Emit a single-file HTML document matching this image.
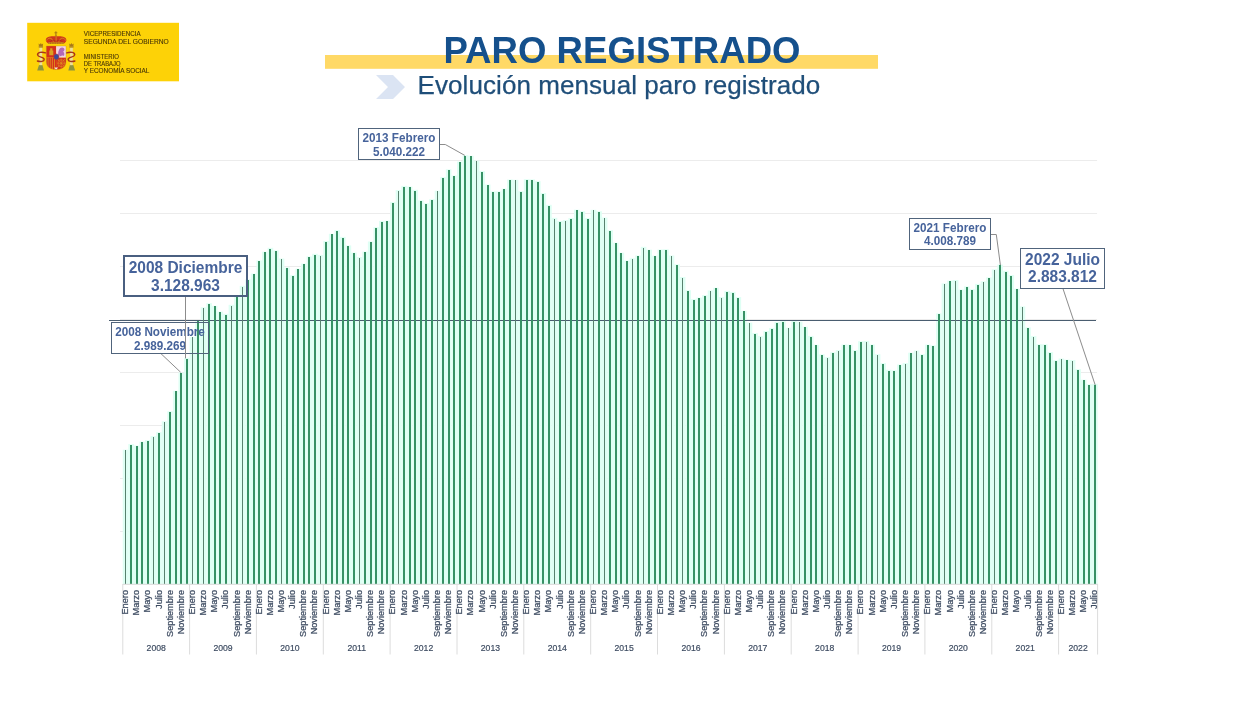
<!DOCTYPE html>
<html lang="es"><head><meta charset="utf-8"><title>Paro registrado</title>
<style>
html,body{margin:0;padding:0;background:#fff;}
body{width:1246px;height:703px;overflow:hidden;position:relative;font-family:"Liberation Sans",sans-serif;}
svg{position:absolute;left:0;top:0;display:block;}
text{font-family:"Liberation Sans",sans-serif;}
.m{font-size:9.2px;fill:#3e4c62;stroke:#3e4c62;stroke-width:0.25px;}
.y{font-size:9.2px;fill:#3e4c62;stroke:#3e4c62;stroke-width:0.2px;text-anchor:middle;}
.cb{font-weight:bold;fill:#46639b;text-anchor:middle;}
.lg{font-size:6.3px;fill:#4a3808;stroke:#4a3808;stroke-width:0.12px;}
</style></head><body>
<svg width="1246" height="703" viewBox="0 0 1246 703">
<rect x="0" y="0" width="1246" height="703" fill="#ffffff"/>
<g id="logo">
<rect x="27.2" y="22.8" width="151.8" height="58.5" fill="#fdd207"/>
<g id="arms">
<defs>
<clipPath id="shc"><path d="M46.3 46 H66 V61.5 C66 66.8 62 69.6 56.15 69.6 C50.3 69.6 46.3 66.8 46.3 61.5 Z"/></clipPath>
</defs>
<g>
<path d="M37.2 70.4 L44 70.4 L42.4 65 L39 65 Z" fill="#8c9440"/>
<rect x="39.5" y="47.2" width="2.7" height="18" fill="#ecdf9c"/>
<rect x="38.7" y="46" width="4.3" height="1.7" fill="#b58a22"/>
<path d="M38.9 46 L38.6 43.4 L39.9 44.4 L40.85 43 L41.8 44.4 L43.1 43.4 L42.8 46 Z" fill="#a87818"/>
<path d="M45.6 52.9 C41.5 51.4 37.2 52.4 37.6 55 C38 57.4 44.2 57 44.2 59.4 C44.2 61.4 40.5 62.1 37.4 61" fill="none" stroke="#a8341c" stroke-width="1.4" stroke-linecap="round"/>
</g>
<g transform="translate(112.3 0) scale(-1 1)">
<path d="M37.2 70.4 L44 70.4 L42.4 65 L39 65 Z" fill="#8c9440"/>
<rect x="39.5" y="47.2" width="2.7" height="18" fill="#ecdf9c"/>
<rect x="38.7" y="46" width="4.3" height="1.7" fill="#b58a22"/>
<path d="M38.9 46 L38.6 43.4 L39.9 44.4 L40.85 43 L41.8 44.4 L43.1 43.4 L42.8 46 Z" fill="#a87818"/>
<path d="M45.6 52.9 C41.5 51.4 37.2 52.4 37.6 55 C38 57.4 44.2 57 44.2 59.4 C44.2 61.4 40.5 62.1 37.4 61" fill="none" stroke="#a8341c" stroke-width="1.4" stroke-linecap="round"/>
</g>
<!-- crown -->
<path d="M55.9 31.3 V36.4 M54.5 32.8 H57.3" stroke="#a87612" stroke-width="1" fill="none"/>
<circle cx="55.9" cy="35.7" r="1.1" fill="#c28c18"/>
<path d="M45.8 40.4 C45.4 36.8 50.8 35.7 56 36.4 C61.2 35.7 66.8 36.8 66.4 40.4 C65.8 42.2 64.5 42.8 63.7 43.7 H48.5 C47.7 42.8 46.4 42.2 45.8 40.4 Z" fill="#cf361c"/>
<path d="M46.6 40.6 C47.6 37.4 52.2 37 53.4 41.8 M65.6 40.6 C64.6 37.4 60 37 58.8 41.8 M56.1 36.8 V42" stroke="#dca01c" stroke-width="0.75" fill="none"/>
<path d="M49.8 41.9 C51 40 53.2 39.6 56.1 41.4 C59 39.6 61.2 40 62.4 41.9" stroke="#a5281a" stroke-width="0.6" fill="none"/>
<rect x="48.3" y="42.3" width="15.6" height="1.8" rx="0.4" fill="#c48e1a"/>
<path d="M50 43.2 H62.3" stroke="#a5281a" stroke-width="0.5" stroke-dasharray="1 1.4"/>
<!-- shield -->
<g clip-path="url(#shc)">
<rect x="46" y="45.5" width="10.2" height="12.2" fill="#d42f1d"/>
<rect x="56.15" y="45.5" width="10.2" height="12.2" fill="#f2d6e0"/>
<rect x="46" y="57.7" width="10.2" height="12.2" fill="#e3a81e"/>
<path d="M47 57.7 V70 M49.1 57.7 V70 M51.2 57.7 V70 M53.3 57.7 V70 M55.4 57.7 V70" stroke="#d42f1d" stroke-width="1.4"/>
<rect x="56.15" y="57.7" width="10.2" height="12.2" fill="#d42f1d"/>
<path d="M57.5 59 L65 67.5 M65 59 L57.5 67.5 M61.2 58.5 V69 M57 63.2 H65.6" stroke="#e0a020" stroke-width="0.55" fill="none"/>
<rect x="58.2" y="60" width="6" height="6.4" rx="1.4" fill="none" stroke="#e0a020" stroke-width="0.55"/>
<!-- castle -->
<path d="M49.3 55.2 V50.6 H50.2 V48.3 H52.4 V50.6 H53.3 V55.2 Z" fill="#dba321"/>
<!-- lion -->
<path d="M58.3 55.6 C57.8 52.5 58.6 50 60 48.3 C61 47.2 63 47 64 48.2 C65 49.6 64.2 51 63.2 51.6 C64.6 53 64.6 55 63.8 56 C62.6 55.2 61.6 55.4 60.6 56.2 C59.8 55.4 59 55.4 58.3 55.6 Z" fill="#b368b8"/>
<path d="M54.3 67.6 L58 67.6 L56.15 70 Z" fill="#f3e3e3"/>
</g>
<path d="M46.3 46 H66 V61.5 C66 66.8 62 69.6 56.15 69.6 C50.3 69.6 46.3 66.8 46.3 61.5 Z" fill="none" stroke="#c9921a" stroke-width="0.35"/>
<ellipse cx="56.4" cy="56.8" rx="2.6" ry="2.9" fill="#3b4a9c" stroke="#c43a2a" stroke-width="0.5"/>
</g>

<text class="lg" x="83.8" y="35.8" textLength="56.8" lengthAdjust="spacingAndGlyphs">VICEPRESIDENCIA</text>
<text class="lg" x="83.8" y="43.5" textLength="84.9" lengthAdjust="spacingAndGlyphs">SEGUNDA DEL GOBIERNO</text>
<text class="lg" x="83.8" y="58.5" textLength="35.1" lengthAdjust="spacingAndGlyphs">MINISTERIO</text>
<text class="lg" x="83.8" y="65.6" textLength="36.7" lengthAdjust="spacingAndGlyphs">DE TRABAJO</text>
<text class="lg" x="83.8" y="72.9" textLength="65.6" lengthAdjust="spacingAndGlyphs">Y ECONOMÍA SOCIAL</text>
</g>
<rect x="325" y="55" width="553" height="13.8" fill="#ffd966"/>
<text x="443.4" y="63" font-size="37.5" font-weight="bold" fill="#15508c" textLength="357.2" lengthAdjust="spacingAndGlyphs">PARO REGISTRADO</text>
<path d="M376 75 L393 75 L405 87 L393 99 L376 99 L388 87 Z" fill="#dbe4f3"/>
<text x="417.6" y="94.4" font-size="26" fill="#1f4e79" stroke="#1f4e79" stroke-width="0.25" letter-spacing="0.07">Evolución mensual paro registrado</text>
<line x1="120" y1="160.5" x2="1097.1" y2="160.5" stroke="#ececec" stroke-width="1"/>
<line x1="120" y1="213.5" x2="1097.1" y2="213.5" stroke="#ececec" stroke-width="1"/>
<line x1="120" y1="266.5" x2="1097.1" y2="266.5" stroke="#ececec" stroke-width="1"/>
<line x1="120" y1="319.5" x2="1097.1" y2="319.5" stroke="#ececec" stroke-width="1"/>
<line x1="120" y1="372.5" x2="1097.1" y2="372.5" stroke="#ececec" stroke-width="1"/>
<line x1="120" y1="425.5" x2="1097.1" y2="425.5" stroke="#ececec" stroke-width="1"/>
<line x1="120" y1="478.5" x2="1097.1" y2="478.5" stroke="#ececec" stroke-width="1"/>
<line x1="120" y1="531.5" x2="1097.1" y2="531.5" stroke="#ececec" stroke-width="1"/>
<rect x="111.5" y="322.5" width="97.0" height="31.0" fill="#ffffff"/>
<rect x="124" y="256" width="123.0" height="40.0" fill="#ffffff"/>
<rect x="358.5" y="128.5" width="81.0" height="31.0" fill="#ffffff"/>
<rect x="909.5" y="218.5" width="81.0" height="31.0" fill="#ffffff"/>
<rect x="1020.5" y="248.5" width="84.0" height="40.0" fill="#ffffff"/>
<g fill="#dffff4">
<rect x="122.75" y="449.7" width="5.62" height="134.3"/>
<rect x="128.32" y="444.1" width="5.62" height="139.9"/>
<rect x="133.89" y="445.6" width="5.62" height="138.4"/>
<rect x="139.46" y="441.6" width="5.62" height="142.4"/>
<rect x="145.03" y="440.0" width="5.62" height="144.0"/>
<rect x="150.61" y="436.1" width="5.62" height="147.9"/>
<rect x="156.18" y="432.2" width="5.62" height="151.8"/>
<rect x="161.75" y="421.3" width="5.62" height="162.7"/>
<rect x="167.32" y="411.2" width="5.62" height="172.8"/>
<rect x="172.89" y="390.8" width="5.62" height="193.2"/>
<rect x="178.46" y="372.6" width="5.62" height="211.4"/>
<rect x="184.03" y="357.8" width="5.62" height="226.2"/>
<rect x="189.60" y="336.8" width="5.62" height="247.2"/>
<rect x="195.17" y="320.4" width="5.62" height="263.6"/>
<rect x="200.74" y="307.3" width="5.62" height="276.7"/>
<rect x="206.31" y="303.1" width="5.62" height="280.9"/>
<rect x="211.88" y="305.8" width="5.62" height="278.2"/>
<rect x="217.45" y="311.6" width="5.62" height="272.4"/>
<rect x="223.02" y="313.8" width="5.62" height="270.2"/>
<rect x="228.59" y="304.8" width="5.62" height="279.2"/>
<rect x="234.17" y="296.3" width="5.62" height="287.7"/>
<rect x="239.74" y="285.8" width="5.62" height="298.2"/>
<rect x="245.31" y="279.4" width="5.62" height="304.6"/>
<rect x="250.88" y="273.6" width="5.62" height="310.4"/>
<rect x="256.45" y="260.4" width="5.62" height="323.6"/>
<rect x="262.02" y="251.7" width="5.62" height="332.3"/>
<rect x="267.59" y="247.8" width="5.62" height="336.2"/>
<rect x="273.16" y="250.4" width="5.62" height="333.6"/>
<rect x="278.73" y="258.5" width="5.62" height="325.5"/>
<rect x="284.30" y="267.4" width="5.62" height="316.6"/>
<rect x="289.87" y="275.2" width="5.62" height="308.8"/>
<rect x="295.44" y="268.7" width="5.62" height="315.3"/>
<rect x="301.01" y="263.6" width="5.62" height="320.4"/>
<rect x="306.58" y="256.4" width="5.62" height="327.6"/>
<rect x="312.15" y="253.8" width="5.62" height="330.2"/>
<rect x="317.72" y="254.9" width="5.62" height="329.1"/>
<rect x="323.30" y="241.0" width="5.62" height="343.0"/>
<rect x="328.87" y="233.8" width="5.62" height="350.2"/>
<rect x="334.44" y="230.1" width="5.62" height="353.9"/>
<rect x="340.01" y="236.9" width="5.62" height="347.1"/>
<rect x="345.58" y="245.4" width="5.62" height="338.6"/>
<rect x="351.15" y="252.6" width="5.62" height="331.4"/>
<rect x="356.72" y="257.0" width="5.62" height="327.0"/>
<rect x="362.29" y="251.6" width="5.62" height="332.4"/>
<rect x="367.86" y="241.5" width="5.62" height="342.5"/>
<rect x="373.43" y="227.2" width="5.62" height="356.8"/>
<rect x="379.00" y="220.9" width="5.62" height="363.1"/>
<rect x="384.57" y="220.7" width="5.62" height="363.3"/>
<rect x="390.14" y="201.9" width="5.62" height="382.1"/>
<rect x="395.71" y="190.0" width="5.62" height="394.0"/>
<rect x="401.28" y="185.9" width="5.62" height="398.1"/>
<rect x="406.86" y="186.6" width="5.62" height="397.4"/>
<rect x="412.43" y="189.8" width="5.62" height="394.2"/>
<rect x="418.00" y="200.3" width="5.62" height="383.7"/>
<rect x="423.57" y="203.2" width="5.62" height="380.8"/>
<rect x="429.14" y="199.2" width="5.62" height="384.8"/>
<rect x="434.71" y="190.7" width="5.62" height="393.3"/>
<rect x="440.28" y="177.1" width="5.62" height="406.9"/>
<rect x="445.85" y="169.3" width="5.62" height="414.7"/>
<rect x="451.42" y="175.5" width="5.62" height="408.5"/>
<rect x="456.99" y="161.5" width="5.62" height="422.5"/>
<rect x="462.56" y="155.2" width="5.62" height="428.8"/>
<rect x="468.13" y="155.8" width="5.62" height="428.2"/>
<rect x="473.70" y="160.6" width="5.62" height="423.4"/>
<rect x="479.27" y="171.1" width="5.62" height="412.9"/>
<rect x="484.84" y="184.5" width="5.62" height="399.5"/>
<rect x="490.42" y="191.4" width="5.62" height="392.6"/>
<rect x="495.99" y="191.4" width="5.62" height="392.6"/>
<rect x="501.56" y="188.7" width="5.62" height="395.3"/>
<rect x="507.13" y="179.5" width="5.62" height="404.5"/>
<rect x="512.70" y="179.8" width="5.62" height="404.2"/>
<rect x="518.27" y="191.2" width="5.62" height="392.8"/>
<rect x="523.84" y="179.2" width="5.62" height="404.8"/>
<rect x="529.41" y="179.4" width="5.62" height="404.6"/>
<rect x="534.98" y="181.1" width="5.62" height="402.9"/>
<rect x="540.55" y="193.0" width="5.62" height="391.0"/>
<rect x="546.12" y="204.8" width="5.62" height="379.2"/>
<rect x="551.69" y="217.8" width="5.62" height="366.2"/>
<rect x="557.26" y="221.0" width="5.62" height="363.0"/>
<rect x="562.83" y="220.1" width="5.62" height="363.9"/>
<rect x="568.40" y="218.0" width="5.62" height="366.0"/>
<rect x="573.97" y="209.7" width="5.62" height="374.3"/>
<rect x="579.55" y="211.2" width="5.62" height="372.8"/>
<rect x="585.12" y="218.0" width="5.62" height="366.0"/>
<rect x="590.69" y="209.8" width="5.62" height="374.2"/>
<rect x="596.26" y="211.2" width="5.62" height="372.8"/>
<rect x="601.83" y="217.6" width="5.62" height="366.4"/>
<rect x="607.40" y="230.2" width="5.62" height="353.8"/>
<rect x="612.97" y="242.7" width="5.62" height="341.3"/>
<rect x="618.54" y="252.7" width="5.62" height="331.3"/>
<rect x="624.11" y="260.6" width="5.62" height="323.4"/>
<rect x="629.68" y="258.3" width="5.62" height="325.7"/>
<rect x="635.25" y="255.5" width="5.62" height="328.5"/>
<rect x="640.82" y="246.8" width="5.62" height="337.2"/>
<rect x="646.39" y="249.7" width="5.62" height="334.3"/>
<rect x="651.96" y="255.6" width="5.62" height="328.4"/>
<rect x="657.53" y="249.5" width="5.62" height="334.5"/>
<rect x="663.11" y="249.3" width="5.62" height="334.7"/>
<rect x="668.68" y="255.5" width="5.62" height="328.5"/>
<rect x="674.25" y="264.3" width="5.62" height="319.7"/>
<rect x="679.82" y="277.0" width="5.62" height="307.0"/>
<rect x="685.39" y="290.2" width="5.62" height="293.8"/>
<rect x="690.96" y="299.1" width="5.62" height="284.9"/>
<rect x="696.53" y="297.6" width="5.62" height="286.4"/>
<rect x="702.10" y="295.1" width="5.62" height="288.9"/>
<rect x="707.67" y="290.4" width="5.62" height="293.6"/>
<rect x="713.24" y="287.8" width="5.62" height="296.2"/>
<rect x="718.81" y="297.0" width="5.62" height="287.0"/>
<rect x="724.38" y="290.9" width="5.62" height="293.1"/>
<rect x="729.95" y="291.9" width="5.62" height="292.1"/>
<rect x="735.52" y="297.1" width="5.62" height="286.9"/>
<rect x="741.09" y="310.8" width="5.62" height="273.2"/>
<rect x="746.66" y="322.6" width="5.62" height="261.4"/>
<rect x="752.24" y="333.0" width="5.62" height="251.0"/>
<rect x="757.81" y="335.9" width="5.62" height="248.1"/>
<rect x="763.38" y="331.0" width="5.62" height="253.0"/>
<rect x="768.95" y="328.0" width="5.62" height="256.0"/>
<rect x="774.52" y="322.0" width="5.62" height="262.0"/>
<rect x="780.09" y="321.2" width="5.62" height="262.8"/>
<rect x="785.66" y="327.7" width="5.62" height="256.3"/>
<rect x="791.23" y="321.0" width="5.62" height="263.0"/>
<rect x="796.80" y="321.7" width="5.62" height="262.3"/>
<rect x="802.37" y="326.7" width="5.62" height="257.3"/>
<rect x="807.94" y="335.9" width="5.62" height="248.1"/>
<rect x="813.51" y="344.8" width="5.62" height="239.2"/>
<rect x="819.08" y="354.3" width="5.62" height="229.7"/>
<rect x="824.65" y="357.2" width="5.62" height="226.8"/>
<rect x="830.22" y="352.2" width="5.62" height="231.8"/>
<rect x="835.80" y="350.0" width="5.62" height="234.0"/>
<rect x="841.37" y="344.5" width="5.62" height="239.5"/>
<rect x="846.94" y="344.7" width="5.62" height="239.3"/>
<rect x="852.51" y="350.1" width="5.62" height="233.9"/>
<rect x="858.08" y="341.2" width="5.62" height="242.8"/>
<rect x="863.65" y="340.9" width="5.62" height="243.1"/>
<rect x="869.22" y="344.5" width="5.62" height="239.5"/>
<rect x="874.79" y="354.2" width="5.62" height="229.8"/>
<rect x="880.36" y="363.1" width="5.62" height="220.9"/>
<rect x="885.93" y="369.8" width="5.62" height="214.2"/>
<rect x="891.50" y="370.3" width="5.62" height="213.7"/>
<rect x="897.07" y="364.5" width="5.62" height="219.5"/>
<rect x="902.64" y="363.1" width="5.62" height="220.9"/>
<rect x="908.21" y="352.7" width="5.62" height="231.3"/>
<rect x="913.78" y="350.5" width="5.62" height="233.5"/>
<rect x="919.36" y="354.2" width="5.62" height="229.8"/>
<rect x="924.93" y="344.6" width="5.62" height="239.4"/>
<rect x="930.50" y="345.4" width="5.62" height="238.6"/>
<rect x="936.07" y="313.4" width="5.62" height="270.6"/>
<rect x="941.64" y="283.4" width="5.62" height="300.6"/>
<rect x="947.21" y="280.6" width="5.62" height="303.4"/>
<rect x="952.78" y="280.0" width="5.62" height="304.0"/>
<rect x="958.35" y="289.6" width="5.62" height="294.4"/>
<rect x="963.92" y="286.4" width="5.62" height="297.6"/>
<rect x="969.49" y="289.2" width="5.62" height="294.8"/>
<rect x="975.06" y="283.9" width="5.62" height="300.1"/>
<rect x="980.63" y="281.3" width="5.62" height="302.7"/>
<rect x="986.20" y="277.4" width="5.62" height="306.6"/>
<rect x="991.77" y="269.3" width="5.62" height="314.7"/>
<rect x="997.34" y="264.6" width="5.62" height="319.4"/>
<rect x="1002.91" y="270.8" width="5.62" height="313.2"/>
<rect x="1008.49" y="275.0" width="5.62" height="309.0"/>
<rect x="1014.06" y="288.7" width="5.62" height="295.3"/>
<rect x="1019.63" y="306.4" width="5.62" height="277.6"/>
<rect x="1025.20" y="327.4" width="5.62" height="256.6"/>
<rect x="1030.77" y="336.1" width="5.62" height="247.9"/>
<rect x="1036.34" y="344.2" width="5.62" height="239.8"/>
<rect x="1041.91" y="344.3" width="5.62" height="239.7"/>
<rect x="1047.48" y="352.1" width="5.62" height="231.9"/>
<rect x="1053.05" y="360.3" width="5.62" height="223.7"/>
<rect x="1058.62" y="358.5" width="5.62" height="225.5"/>
<rect x="1064.19" y="359.7" width="5.62" height="224.3"/>
<rect x="1069.76" y="360.0" width="5.62" height="224.0"/>
<rect x="1075.33" y="369.1" width="5.62" height="214.9"/>
<rect x="1080.90" y="379.7" width="5.62" height="204.3"/>
<rect x="1086.47" y="384.2" width="5.62" height="199.8"/>
<rect x="1092.05" y="383.8" width="5.62" height="200.2"/>
</g>
<line x1="108.5" y1="320.5" x2="1096.1" y2="320.5" stroke="#4a5d70" stroke-width="1" shape-rendering="crispEdges"/>
<g fill="#379165" shape-rendering="crispEdges">
<rect x="130" y="445" width="2" height="139.0"/>
<rect x="136" y="446" width="2" height="138.0"/>
<rect x="141" y="442" width="2" height="142.0"/>
<rect x="147" y="441" width="2" height="143.0"/>
<rect x="158" y="433" width="2" height="151.0"/>
<rect x="169" y="412" width="2" height="172.0"/>
<rect x="175" y="391" width="2" height="193.0"/>
<rect x="180" y="373" width="2" height="211.0"/>
<rect x="186" y="359" width="2" height="225.0"/>
<rect x="197" y="321" width="2" height="263.0"/>
<rect x="208" y="304" width="2" height="280.0"/>
<rect x="214" y="306" width="2" height="278.0"/>
<rect x="219" y="312" width="2" height="272.0"/>
<rect x="225" y="315" width="2" height="269.0"/>
<rect x="236" y="297" width="2" height="287.0"/>
<rect x="247" y="280" width="2" height="304.0"/>
<rect x="253" y="274" width="2" height="310.0"/>
<rect x="258" y="261" width="2" height="323.0"/>
<rect x="264" y="252" width="2" height="332.0"/>
<rect x="269" y="249" width="2" height="335.0"/>
<rect x="275" y="251" width="2" height="333.0"/>
<rect x="286" y="268" width="2" height="316.0"/>
<rect x="292" y="276" width="2" height="308.0"/>
<rect x="297" y="269" width="2" height="315.0"/>
<rect x="303" y="264" width="2" height="320.0"/>
<rect x="308" y="257" width="2" height="327.0"/>
<rect x="314" y="255" width="2" height="329.0"/>
<rect x="325" y="242" width="2" height="342.0"/>
<rect x="331" y="234" width="2" height="350.0"/>
<rect x="336" y="231" width="2" height="353.0"/>
<rect x="342" y="238" width="2" height="346.0"/>
<rect x="347" y="246" width="2" height="338.0"/>
<rect x="353" y="253" width="2" height="331.0"/>
<rect x="364" y="252" width="2" height="332.0"/>
<rect x="370" y="242" width="2" height="342.0"/>
<rect x="375" y="228" width="2" height="356.0"/>
<rect x="381" y="222" width="2" height="362.0"/>
<rect x="386" y="221" width="2" height="363.0"/>
<rect x="392" y="203" width="2" height="381.0"/>
<rect x="403" y="187" width="2" height="397.0"/>
<rect x="409" y="187" width="2" height="397.0"/>
<rect x="414" y="191" width="2" height="393.0"/>
<rect x="420" y="201" width="2" height="383.0"/>
<rect x="425" y="204" width="2" height="380.0"/>
<rect x="431" y="200" width="2" height="384.0"/>
<rect x="442" y="178" width="2" height="406.0"/>
<rect x="448" y="170" width="2" height="414.0"/>
<rect x="453" y="176" width="2" height="408.0"/>
<rect x="459" y="162" width="2" height="422.0"/>
<rect x="464" y="156" width="2" height="428.0"/>
<rect x="470" y="156" width="2" height="428.0"/>
<rect x="481" y="172" width="2" height="412.0"/>
<rect x="487" y="185" width="2" height="399.0"/>
<rect x="492" y="192" width="2" height="392.0"/>
<rect x="498" y="192" width="2" height="392.0"/>
<rect x="503" y="189" width="2" height="395.0"/>
<rect x="509" y="180" width="2" height="404.0"/>
<rect x="520" y="192" width="2" height="392.0"/>
<rect x="526" y="180" width="2" height="404.0"/>
<rect x="531" y="180" width="2" height="404.0"/>
<rect x="537" y="182" width="2" height="402.0"/>
<rect x="542" y="194" width="2" height="390.0"/>
<rect x="548" y="206" width="2" height="378.0"/>
<rect x="559" y="222" width="2" height="362.0"/>
<rect x="570" y="219" width="2" height="365.0"/>
<rect x="576" y="210" width="2" height="374.0"/>
<rect x="581" y="212" width="2" height="372.0"/>
<rect x="587" y="219" width="2" height="365.0"/>
<rect x="598" y="212" width="2" height="372.0"/>
<rect x="609" y="231" width="2" height="353.0"/>
<rect x="615" y="243" width="2" height="341.0"/>
<rect x="620" y="253" width="2" height="331.0"/>
<rect x="626" y="261" width="2" height="323.0"/>
<rect x="637" y="256" width="2" height="328.0"/>
<rect x="648" y="250" width="2" height="334.0"/>
<rect x="654" y="256" width="2" height="328.0"/>
<rect x="659" y="250" width="2" height="334.0"/>
<rect x="665" y="250" width="2" height="334.0"/>
<rect x="676" y="265" width="2" height="319.0"/>
<rect x="687" y="291" width="2" height="293.0"/>
<rect x="693" y="300" width="2" height="284.0"/>
<rect x="698" y="298" width="2" height="286.0"/>
<rect x="704" y="296" width="2" height="288.0"/>
<rect x="715" y="288" width="2" height="296.0"/>
<rect x="726" y="292" width="2" height="292.0"/>
<rect x="732" y="293" width="2" height="291.0"/>
<rect x="737" y="298" width="2" height="286.0"/>
<rect x="743" y="311" width="2" height="273.0"/>
<rect x="754" y="334" width="2" height="250.0"/>
<rect x="765" y="332" width="2" height="252.0"/>
<rect x="771" y="329" width="2" height="255.0"/>
<rect x="776" y="323" width="2" height="261.0"/>
<rect x="782" y="322" width="2" height="262.0"/>
<rect x="793" y="322" width="2" height="262.0"/>
<rect x="804" y="327" width="2" height="257.0"/>
<rect x="810" y="337" width="2" height="247.0"/>
<rect x="815" y="345" width="2" height="239.0"/>
<rect x="821" y="355" width="2" height="229.0"/>
<rect x="832" y="353" width="2" height="231.0"/>
<rect x="843" y="345" width="2" height="239.0"/>
<rect x="849" y="345" width="2" height="239.0"/>
<rect x="854" y="351" width="2" height="233.0"/>
<rect x="860" y="342" width="2" height="242.0"/>
<rect x="871" y="345" width="2" height="239.0"/>
<rect x="882" y="364" width="2" height="220.0"/>
<rect x="888" y="371" width="2" height="213.0"/>
<rect x="893" y="371" width="2" height="213.0"/>
<rect x="899" y="365" width="2" height="219.0"/>
<rect x="910" y="353" width="2" height="231.0"/>
<rect x="921" y="355" width="2" height="229.0"/>
<rect x="927" y="345" width="2" height="239.0"/>
<rect x="932" y="346" width="2" height="238.0"/>
<rect x="938" y="314" width="2" height="270.0"/>
<rect x="949" y="281" width="2" height="303.0"/>
<rect x="960" y="290" width="2" height="294.0"/>
<rect x="966" y="287" width="2" height="297.0"/>
<rect x="971" y="290" width="2" height="294.0"/>
<rect x="977" y="285" width="2" height="299.0"/>
<rect x="988" y="278" width="2" height="306.0"/>
<rect x="999" y="265" width="2" height="319.0"/>
<rect x="1005" y="272" width="2" height="312.0"/>
<rect x="1010" y="276" width="2" height="308.0"/>
<rect x="1016" y="289" width="2" height="295.0"/>
<rect x="1027" y="328" width="2" height="256.0"/>
<rect x="1038" y="345" width="2" height="239.0"/>
<rect x="1044" y="345" width="2" height="239.0"/>
<rect x="1049" y="353" width="2" height="231.0"/>
<rect x="1055" y="361" width="2" height="223.0"/>
<rect x="1066" y="360" width="2" height="224.0"/>
<rect x="1077" y="370" width="2" height="214.0"/>
<rect x="1083" y="380" width="2" height="204.0"/>
<rect x="1088" y="385" width="2" height="199.0"/>
<rect x="1094" y="385" width="2" height="199.0"/>
</g>
<g fill="#58816e" shape-rendering="crispEdges">
<rect x="125" y="450" width="1" height="134.0"/>
<rect x="153" y="437" width="1" height="147.0"/>
<rect x="164" y="422" width="1" height="162.0"/>
<rect x="192" y="337" width="1" height="247.0"/>
<rect x="203" y="308" width="1" height="276.0"/>
<rect x="231" y="306" width="1" height="278.0"/>
<rect x="242" y="287" width="1" height="297.0"/>
<rect x="281" y="259" width="1" height="325.0"/>
<rect x="320" y="256" width="1" height="328.0"/>
<rect x="359" y="258" width="1" height="326.0"/>
<rect x="398" y="191" width="1" height="393.0"/>
<rect x="437" y="191" width="1" height="393.0"/>
<rect x="476" y="161" width="1" height="423.0"/>
<rect x="515" y="180" width="1" height="404.0"/>
<rect x="554" y="219" width="1" height="365.0"/>
<rect x="565" y="221" width="1" height="363.0"/>
<rect x="593" y="210" width="1" height="374.0"/>
<rect x="604" y="218" width="1" height="366.0"/>
<rect x="632" y="259" width="1" height="325.0"/>
<rect x="643" y="248" width="1" height="336.0"/>
<rect x="671" y="256" width="1" height="328.0"/>
<rect x="682" y="278" width="1" height="306.0"/>
<rect x="710" y="291" width="1" height="293.0"/>
<rect x="721" y="298" width="1" height="286.0"/>
<rect x="749" y="323" width="1" height="261.0"/>
<rect x="760" y="337" width="1" height="247.0"/>
<rect x="788" y="328" width="1" height="256.0"/>
<rect x="799" y="322" width="1" height="262.0"/>
<rect x="827" y="358" width="1" height="226.0"/>
<rect x="838" y="351" width="1" height="233.0"/>
<rect x="866" y="342" width="1" height="242.0"/>
<rect x="877" y="355" width="1" height="229.0"/>
<rect x="905" y="364" width="1" height="220.0"/>
<rect x="916" y="351" width="1" height="233.0"/>
<rect x="944" y="284" width="1" height="300.0"/>
<rect x="955" y="281" width="1" height="303.0"/>
<rect x="983" y="282" width="1" height="302.0"/>
<rect x="994" y="270" width="1" height="314.0"/>
<rect x="1022" y="307" width="1" height="277.0"/>
<rect x="1033" y="337" width="1" height="247.0"/>
<rect x="1061" y="359" width="1" height="225.0"/>
<rect x="1072" y="361" width="1" height="223.0"/>
</g>
<line x1="122.8" y1="584.3" x2="1097.6" y2="584.3" stroke="#d9d9d9" stroke-width="1"/>
<line x1="122.8" y1="584.0" x2="122.8" y2="654.5" stroke="#dcdcdc" stroke-width="1"/>
<text class="y" transform="translate(156.2 650.8) scale(0.94 1)">2008</text>
<line x1="189.6" y1="584.0" x2="189.6" y2="654.5" stroke="#dcdcdc" stroke-width="1"/>
<text class="y" transform="translate(223.0 650.8) scale(0.94 1)">2009</text>
<line x1="256.4" y1="584.0" x2="256.4" y2="654.5" stroke="#dcdcdc" stroke-width="1"/>
<text class="y" transform="translate(289.9 650.8) scale(0.94 1)">2010</text>
<line x1="323.3" y1="584.0" x2="323.3" y2="654.5" stroke="#dcdcdc" stroke-width="1"/>
<text class="y" transform="translate(356.7 650.8) scale(0.94 1)">2011</text>
<line x1="390.1" y1="584.0" x2="390.1" y2="654.5" stroke="#dcdcdc" stroke-width="1"/>
<text class="y" transform="translate(423.6 650.8) scale(0.94 1)">2012</text>
<line x1="457.0" y1="584.0" x2="457.0" y2="654.5" stroke="#dcdcdc" stroke-width="1"/>
<text class="y" transform="translate(490.4 650.8) scale(0.94 1)">2013</text>
<line x1="523.8" y1="584.0" x2="523.8" y2="654.5" stroke="#dcdcdc" stroke-width="1"/>
<text class="y" transform="translate(557.3 650.8) scale(0.94 1)">2014</text>
<line x1="590.7" y1="584.0" x2="590.7" y2="654.5" stroke="#dcdcdc" stroke-width="1"/>
<text class="y" transform="translate(624.1 650.8) scale(0.94 1)">2015</text>
<line x1="657.5" y1="584.0" x2="657.5" y2="654.5" stroke="#dcdcdc" stroke-width="1"/>
<text class="y" transform="translate(691.0 650.8) scale(0.94 1)">2016</text>
<line x1="724.4" y1="584.0" x2="724.4" y2="654.5" stroke="#dcdcdc" stroke-width="1"/>
<text class="y" transform="translate(757.8 650.8) scale(0.94 1)">2017</text>
<line x1="791.2" y1="584.0" x2="791.2" y2="654.5" stroke="#dcdcdc" stroke-width="1"/>
<text class="y" transform="translate(824.7 650.8) scale(0.94 1)">2018</text>
<line x1="858.1" y1="584.0" x2="858.1" y2="654.5" stroke="#dcdcdc" stroke-width="1"/>
<text class="y" transform="translate(891.5 650.8) scale(0.94 1)">2019</text>
<line x1="924.9" y1="584.0" x2="924.9" y2="654.5" stroke="#dcdcdc" stroke-width="1"/>
<text class="y" transform="translate(958.3 650.8) scale(0.94 1)">2020</text>
<line x1="991.8" y1="584.0" x2="991.8" y2="654.5" stroke="#dcdcdc" stroke-width="1"/>
<text class="y" transform="translate(1025.2 650.8) scale(0.94 1)">2021</text>
<line x1="1058.6" y1="584.0" x2="1058.6" y2="654.5" stroke="#dcdcdc" stroke-width="1"/>
<text class="y" transform="translate(1078.1 650.8) scale(0.94 1)">2022</text>
<line x1="1097.6" y1="584.0" x2="1097.6" y2="654.5" stroke="#dcdcdc" stroke-width="1"/>
<text class="m" text-anchor="end" transform="translate(128.0 590) scale(0.94 1) rotate(-90)">Enero</text>
<text class="m" text-anchor="end" transform="translate(139.2 590) scale(0.94 1) rotate(-90)">Marzo</text>
<text class="m" text-anchor="end" transform="translate(150.3 590) scale(0.94 1) rotate(-90)">Mayo</text>
<text class="m" text-anchor="end" transform="translate(161.5 590) scale(0.94 1) rotate(-90)">Julio</text>
<text class="m" text-anchor="end" transform="translate(172.6 590) scale(0.94 1) rotate(-90)">Septiembre</text>
<text class="m" text-anchor="end" transform="translate(183.7 590) scale(0.94 1) rotate(-90)">Noviembre</text>
<text class="m" text-anchor="end" transform="translate(194.9 590) scale(0.94 1) rotate(-90)">Enero</text>
<text class="m" text-anchor="end" transform="translate(206.0 590) scale(0.94 1) rotate(-90)">Marzo</text>
<text class="m" text-anchor="end" transform="translate(217.2 590) scale(0.94 1) rotate(-90)">Mayo</text>
<text class="m" text-anchor="end" transform="translate(228.3 590) scale(0.94 1) rotate(-90)">Julio</text>
<text class="m" text-anchor="end" transform="translate(239.5 590) scale(0.94 1) rotate(-90)">Septiembre</text>
<text class="m" text-anchor="end" transform="translate(250.6 590) scale(0.94 1) rotate(-90)">Noviembre</text>
<text class="m" text-anchor="end" transform="translate(261.7 590) scale(0.94 1) rotate(-90)">Enero</text>
<text class="m" text-anchor="end" transform="translate(272.9 590) scale(0.94 1) rotate(-90)">Marzo</text>
<text class="m" text-anchor="end" transform="translate(284.0 590) scale(0.94 1) rotate(-90)">Mayo</text>
<text class="m" text-anchor="end" transform="translate(295.2 590) scale(0.94 1) rotate(-90)">Julio</text>
<text class="m" text-anchor="end" transform="translate(306.3 590) scale(0.94 1) rotate(-90)">Septiembre</text>
<text class="m" text-anchor="end" transform="translate(317.4 590) scale(0.94 1) rotate(-90)">Noviembre</text>
<text class="m" text-anchor="end" transform="translate(328.6 590) scale(0.94 1) rotate(-90)">Enero</text>
<text class="m" text-anchor="end" transform="translate(339.7 590) scale(0.94 1) rotate(-90)">Marzo</text>
<text class="m" text-anchor="end" transform="translate(350.9 590) scale(0.94 1) rotate(-90)">Mayo</text>
<text class="m" text-anchor="end" transform="translate(362.0 590) scale(0.94 1) rotate(-90)">Julio</text>
<text class="m" text-anchor="end" transform="translate(373.1 590) scale(0.94 1) rotate(-90)">Septiembre</text>
<text class="m" text-anchor="end" transform="translate(384.3 590) scale(0.94 1) rotate(-90)">Noviembre</text>
<text class="m" text-anchor="end" transform="translate(395.4 590) scale(0.94 1) rotate(-90)">Enero</text>
<text class="m" text-anchor="end" transform="translate(406.6 590) scale(0.94 1) rotate(-90)">Marzo</text>
<text class="m" text-anchor="end" transform="translate(417.7 590) scale(0.94 1) rotate(-90)">Mayo</text>
<text class="m" text-anchor="end" transform="translate(428.9 590) scale(0.94 1) rotate(-90)">Julio</text>
<text class="m" text-anchor="end" transform="translate(440.0 590) scale(0.94 1) rotate(-90)">Septiembre</text>
<text class="m" text-anchor="end" transform="translate(451.1 590) scale(0.94 1) rotate(-90)">Noviembre</text>
<text class="m" text-anchor="end" transform="translate(462.3 590) scale(0.94 1) rotate(-90)">Enero</text>
<text class="m" text-anchor="end" transform="translate(473.4 590) scale(0.94 1) rotate(-90)">Marzo</text>
<text class="m" text-anchor="end" transform="translate(484.6 590) scale(0.94 1) rotate(-90)">Mayo</text>
<text class="m" text-anchor="end" transform="translate(495.7 590) scale(0.94 1) rotate(-90)">Julio</text>
<text class="m" text-anchor="end" transform="translate(506.8 590) scale(0.94 1) rotate(-90)">Septiembre</text>
<text class="m" text-anchor="end" transform="translate(518.0 590) scale(0.94 1) rotate(-90)">Noviembre</text>
<text class="m" text-anchor="end" transform="translate(529.1 590) scale(0.94 1) rotate(-90)">Enero</text>
<text class="m" text-anchor="end" transform="translate(540.3 590) scale(0.94 1) rotate(-90)">Marzo</text>
<text class="m" text-anchor="end" transform="translate(551.4 590) scale(0.94 1) rotate(-90)">Mayo</text>
<text class="m" text-anchor="end" transform="translate(562.5 590) scale(0.94 1) rotate(-90)">Julio</text>
<text class="m" text-anchor="end" transform="translate(573.7 590) scale(0.94 1) rotate(-90)">Septiembre</text>
<text class="m" text-anchor="end" transform="translate(584.8 590) scale(0.94 1) rotate(-90)">Noviembre</text>
<text class="m" text-anchor="end" transform="translate(596.0 590) scale(0.94 1) rotate(-90)">Enero</text>
<text class="m" text-anchor="end" transform="translate(607.1 590) scale(0.94 1) rotate(-90)">Marzo</text>
<text class="m" text-anchor="end" transform="translate(618.3 590) scale(0.94 1) rotate(-90)">Mayo</text>
<text class="m" text-anchor="end" transform="translate(629.4 590) scale(0.94 1) rotate(-90)">Julio</text>
<text class="m" text-anchor="end" transform="translate(640.5 590) scale(0.94 1) rotate(-90)">Septiembre</text>
<text class="m" text-anchor="end" transform="translate(651.7 590) scale(0.94 1) rotate(-90)">Noviembre</text>
<text class="m" text-anchor="end" transform="translate(662.8 590) scale(0.94 1) rotate(-90)">Enero</text>
<text class="m" text-anchor="end" transform="translate(674.0 590) scale(0.94 1) rotate(-90)">Marzo</text>
<text class="m" text-anchor="end" transform="translate(685.1 590) scale(0.94 1) rotate(-90)">Mayo</text>
<text class="m" text-anchor="end" transform="translate(696.2 590) scale(0.94 1) rotate(-90)">Julio</text>
<text class="m" text-anchor="end" transform="translate(707.4 590) scale(0.94 1) rotate(-90)">Septiembre</text>
<text class="m" text-anchor="end" transform="translate(718.5 590) scale(0.94 1) rotate(-90)">Noviembre</text>
<text class="m" text-anchor="end" transform="translate(729.7 590) scale(0.94 1) rotate(-90)">Enero</text>
<text class="m" text-anchor="end" transform="translate(740.8 590) scale(0.94 1) rotate(-90)">Marzo</text>
<text class="m" text-anchor="end" transform="translate(752.0 590) scale(0.94 1) rotate(-90)">Mayo</text>
<text class="m" text-anchor="end" transform="translate(763.1 590) scale(0.94 1) rotate(-90)">Julio</text>
<text class="m" text-anchor="end" transform="translate(774.2 590) scale(0.94 1) rotate(-90)">Septiembre</text>
<text class="m" text-anchor="end" transform="translate(785.4 590) scale(0.94 1) rotate(-90)">Noviembre</text>
<text class="m" text-anchor="end" transform="translate(796.5 590) scale(0.94 1) rotate(-90)">Enero</text>
<text class="m" text-anchor="end" transform="translate(807.7 590) scale(0.94 1) rotate(-90)">Marzo</text>
<text class="m" text-anchor="end" transform="translate(818.8 590) scale(0.94 1) rotate(-90)">Mayo</text>
<text class="m" text-anchor="end" transform="translate(829.9 590) scale(0.94 1) rotate(-90)">Julio</text>
<text class="m" text-anchor="end" transform="translate(841.1 590) scale(0.94 1) rotate(-90)">Septiembre</text>
<text class="m" text-anchor="end" transform="translate(852.2 590) scale(0.94 1) rotate(-90)">Noviembre</text>
<text class="m" text-anchor="end" transform="translate(863.4 590) scale(0.94 1) rotate(-90)">Enero</text>
<text class="m" text-anchor="end" transform="translate(874.5 590) scale(0.94 1) rotate(-90)">Marzo</text>
<text class="m" text-anchor="end" transform="translate(885.6 590) scale(0.94 1) rotate(-90)">Mayo</text>
<text class="m" text-anchor="end" transform="translate(896.8 590) scale(0.94 1) rotate(-90)">Julio</text>
<text class="m" text-anchor="end" transform="translate(907.9 590) scale(0.94 1) rotate(-90)">Septiembre</text>
<text class="m" text-anchor="end" transform="translate(919.1 590) scale(0.94 1) rotate(-90)">Noviembre</text>
<text class="m" text-anchor="end" transform="translate(930.2 590) scale(0.94 1) rotate(-90)">Enero</text>
<text class="m" text-anchor="end" transform="translate(941.4 590) scale(0.94 1) rotate(-90)">Marzo</text>
<text class="m" text-anchor="end" transform="translate(952.5 590) scale(0.94 1) rotate(-90)">Mayo</text>
<text class="m" text-anchor="end" transform="translate(963.6 590) scale(0.94 1) rotate(-90)">Julio</text>
<text class="m" text-anchor="end" transform="translate(974.8 590) scale(0.94 1) rotate(-90)">Septiembre</text>
<text class="m" text-anchor="end" transform="translate(985.9 590) scale(0.94 1) rotate(-90)">Noviembre</text>
<text class="m" text-anchor="end" transform="translate(997.1 590) scale(0.94 1) rotate(-90)">Enero</text>
<text class="m" text-anchor="end" transform="translate(1008.2 590) scale(0.94 1) rotate(-90)">Marzo</text>
<text class="m" text-anchor="end" transform="translate(1019.3 590) scale(0.94 1) rotate(-90)">Mayo</text>
<text class="m" text-anchor="end" transform="translate(1030.5 590) scale(0.94 1) rotate(-90)">Julio</text>
<text class="m" text-anchor="end" transform="translate(1041.6 590) scale(0.94 1) rotate(-90)">Septiembre</text>
<text class="m" text-anchor="end" transform="translate(1052.8 590) scale(0.94 1) rotate(-90)">Noviembre</text>
<text class="m" text-anchor="end" transform="translate(1063.9 590) scale(0.94 1) rotate(-90)">Enero</text>
<text class="m" text-anchor="end" transform="translate(1075.0 590) scale(0.94 1) rotate(-90)">Marzo</text>
<text class="m" text-anchor="end" transform="translate(1086.2 590) scale(0.94 1) rotate(-90)">Mayo</text>
<text class="m" text-anchor="end" transform="translate(1097.3 590) scale(0.94 1) rotate(-90)">Julio</text>
<path d="M160.8 353.5 L180.6 372.2" stroke="#8c8c8c" stroke-width="1" fill="none"/>
<rect x="111.5" y="322.5" width="97.0" height="31.0" fill="none" stroke="#50647c" stroke-width="1" shape-rendering="crispEdges"/>
<g transform="translate(160.0 0) scale(0.94 1)">
<text class="cb" font-size="12.45" x="0" y="335.7">2008 Noviembre</text>
<text class="cb" font-size="12.45" x="0" y="349.6">2.989.269</text>
</g>
<path d="M185.5 296 L185.5 358.4" stroke="#8c8c8c" stroke-width="1" fill="none"/>
<rect x="124" y="256" width="123.0" height="40.0" fill="none" stroke="#4a5f80" stroke-width="2" shape-rendering="crispEdges"/>
<g transform="translate(185.5 0) scale(0.94 1)">
<text class="cb" font-size="16.49" x="0" y="272.7">2008 Diciembre</text>
<text class="cb" font-size="16.49" x="0" y="291.0">3.128.963</text>
</g>
<path d="M439.9 144.5 L445.3 144.5 L464.8 155.4" stroke="#8c8c8c" stroke-width="1" fill="none"/>
<rect x="358.5" y="128.5" width="81.0" height="31.0" fill="none" stroke="#50647c" stroke-width="1" shape-rendering="crispEdges"/>
<g transform="translate(399.0 0) scale(0.94 1)">
<text class="cb" font-size="12.45" x="0" y="142.0">2013 Febrero</text>
<text class="cb" font-size="12.45" x="0" y="156.0">5.040.222</text>
</g>
<path d="M990.8 234.5 L996.3 234.5 L1000.4 265.1" stroke="#8c8c8c" stroke-width="1" fill="none"/>
<rect x="909.5" y="218.5" width="81.0" height="31.0" fill="none" stroke="#50647c" stroke-width="1" shape-rendering="crispEdges"/>
<g transform="translate(950.0 0) scale(0.94 1)">
<text class="cb" font-size="12.45" x="0" y="232.1">2021 Febrero</text>
<text class="cb" font-size="12.45" x="0" y="245.5">4.008.789</text>
</g>
<path d="M1062.9 288.4 L1095.2 385" stroke="#8c8c8c" stroke-width="1" fill="none"/>
<rect x="1020.5" y="248.5" width="84.0" height="40.0" fill="none" stroke="#50647c" stroke-width="1" shape-rendering="crispEdges"/>
<g transform="translate(1062.5 0) scale(0.94 1)">
<text class="cb" font-size="16.49" x="0" y="264.6">2022 Julio</text>
<text class="cb" font-size="16.49" x="0" y="282.1">2.883.812</text>
</g>
</svg>
</body></html>
